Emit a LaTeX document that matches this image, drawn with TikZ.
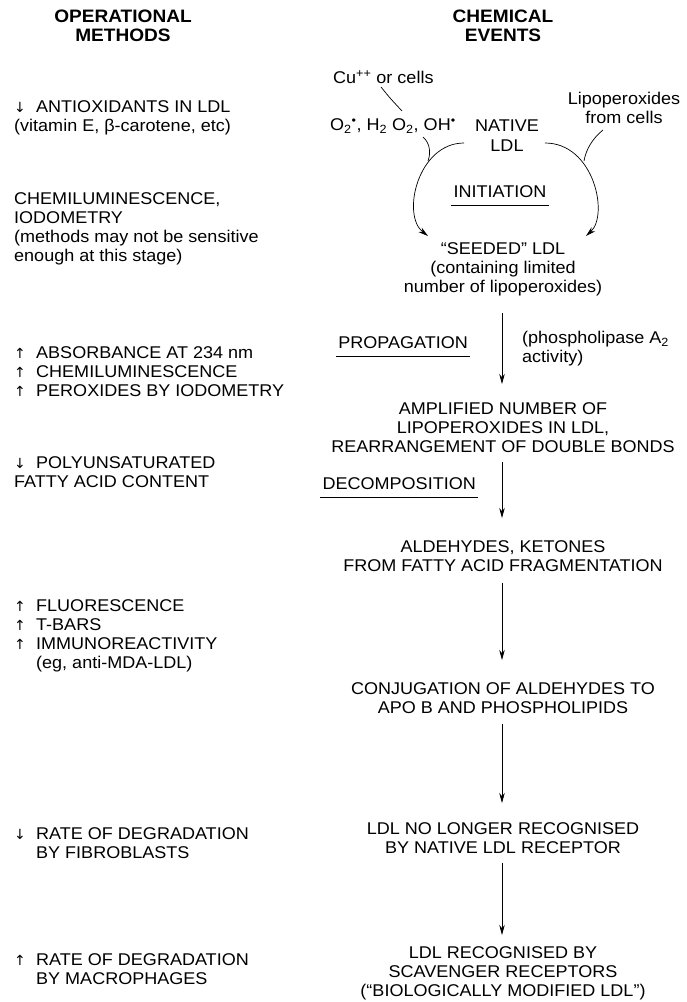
\documentclass[tikz,border=0pt]{standalone}
\usepackage{fontspec}
\setmainfont{Liberation Sans}[FakeStretch=1.06]
\newfontfamily\symf{DejaVu Sans}
\usetikzlibrary{arrows.meta}
\newcommand\ua{\makebox[22pt][l]{{\symf\fontsize{14}{14}\selectfont ↑}}}
\newcommand\da{\makebox[22pt][l]{{\symf\fontsize{14}{14}\selectfont ↓}}}
\newcommand\ind{\hspace*{22pt}}
\begin{document}
\begin{tikzpicture}[x=1pt,y=-1pt,
  font=\fontsize{17}{19.3}\selectfont,
  every node/.style={inner sep=0pt},
  head/.style={align=center, font=\fontsize{18}{19}\selectfont\bfseries, anchor=north},
  lcol/.style={align=left, anchor=north west},
  rcol/.style={align=center, anchor=north},
  stage/.style={anchor=east},
  arr/.style={-{Stealth[length=10pt,width=5.5pt]}, line width=0.7pt},
  feed/.style={line width=0.7pt},
  uline/.style={line width=1pt}]
\useasboundingbox (0,0) rectangle (686,1002);
% headings
\node[head] (h1) at (123,10) {OPERATIONAL\\METHODS};
\node[head] (h2) at (503,10) {CHEMICAL\\EVENTS};
% left column
\node[lcol] (m1) at (14,100) {\da ANTIOXIDANTS IN LDL\\(vitamin E, β-carotene, etc)};
\node[lcol] (m2) at (14,192) {CHEMILUMINESCENCE,\\IODOMETRY\\(methods may not be sensitive\\enough at this stage)};
\node[lcol] (m3) at (14,346) {\ua ABSORBANCE AT 234 nm\\\ua CHEMILUMINESCENCE\\\ua PEROXIDES BY IODOMETRY};
\node[lcol] (m4) at (14,456) {\da POLYUNSATURATED\\FATTY ACID CONTENT};
\node[lcol] (m5) at (14,599) {\ua FLUORESCENCE\\\ua T-BARS\\\ua IMMUNOREACTIVITY\\\ind(eg, anti-MDA-LDL)};
\node[lcol] (m6) at (14,827) {\da RATE OF DEGRADATION\\\ind BY FIBROBLASTS};
\node[lcol] (m7) at (14,953) {\ua RATE OF DEGRADATION\\\ind BY MACROPHAGES};
% right column: initiation cycle
\node[anchor=west] (cu) at (333,77) {Cu\textsuperscript{++} or cells};
\node[rcol] (lipo) at (624,92) {Lipoperoxides\\from cells};
\node[anchor=west] (ros) at (330,126) {O\textsubscript{2}\textsuperscript{•}, H\textsubscript{2} O\textsubscript{2}, OH\textsuperscript{•}};
\node[rcol] (native) at (507,120) {NATIVE\\LDL};
\node[anchor=center] (init) at (500,192) {INITIATION};
\node[rcol] (seeded) at (503,242) {“SEEDED” LDL\\(containing limited\\number of lipoperoxides)};
% propagation
\node[stage] (prop) at (468,343) {PROPAGATION};
\node[align=left, anchor=north west] (pla) at (522,331) {(phospholipase A\textsubscript{2}\\activity)};
\node[rcol] (ampl) at (503,402) {AMPLIFIED NUMBER OF\\LIPOPEROXIDES IN LDL,\\REARRANGEMENT OF DOUBLE BONDS};
\node[stage] (decomp) at (476,484) {DECOMPOSITION};
\node[rcol] (ald) at (503,540) {ALDEHYDES, KETONES\\FROM FATTY ACID FRAGMENTATION};
\node[rcol] (conj) at (503,682) {CONJUGATION OF ALDEHYDES TO\\APO B AND PHOSPHOLIPIDS};
\node[rcol] (nolong) at (503,822) {LDL NO LONGER RECOGNISED\\BY NATIVE LDL RECEPTOR};
\node[rcol] (scav) at (503,946) {LDL RECOGNISED BY\\SCAVENGER RECEPTORS\\(“BIOLOGICALLY MODIFIED LDL”)};
% underlines
\draw[uline] ([xshift=-2pt,yshift=-7pt]init.south west) -- ([xshift=2pt,yshift=-7pt]init.south east);
\draw[uline] ([xshift=-2pt,yshift=-7pt]prop.south west) -- ([xshift=2pt,yshift=-7pt]prop.south east);
\draw[uline] ([xshift=-2pt,yshift=-7pt]decomp.south west) -- ([xshift=2pt,yshift=-7pt]decomp.south east);
% initiation cycle curves
\coordinate (lA) at (464,143);
\coordinate (lB) at (428,236);
\coordinate (rA) at (545,143);
\coordinate (rB) at (586,236);
\coordinate (lJ) at (428,161);
\coordinate (rJ) at (584,161);
\coordinate (lF) at (423,137);
\coordinate (rF) at (603,130);
\coordinate (cA) at (381,87);
\coordinate (cB) at (402,111);
\draw[arr] (lA) .. controls (418,143) and (401,215) .. (lB);
\draw[arr] (rA) .. controls (594,143) and (609,215) .. (rB);
\draw[feed] (lF) .. controls (430,143) and (431,153) .. (lJ);
\draw[feed] (rF) .. controls (593,138) and (586,149) .. (rJ);
\draw[feed] (cA) .. controls (389,97) .. (cB);
% main vertical arrows
\draw[arr, shorten <=17pt, shorten >=18pt] ([xshift=-1pt]seeded.south) -- ([xshift=-1pt]seeded.south |- ampl.north);
\draw[arr, shorten <=9pt, shorten >=22pt] ([xshift=-1pt]ampl.south) -- ([xshift=-1pt]ampl.south |- ald.north);
\draw[arr, shorten <=11pt, shorten >=22pt] ([xshift=-1pt]ald.south) -- ([xshift=-1pt]ald.south |- conj.north);
\draw[arr, shorten <=10pt, shorten >=19pt] ([xshift=-1pt]conj.south) -- ([xshift=-1pt]conj.south |- nolong.north);
\draw[arr, shorten <=9pt, shorten >=11pt] ([xshift=-1pt]nolong.south) -- ([xshift=-1pt]nolong.south |- scav.north);
\end{tikzpicture}
\end{document}
